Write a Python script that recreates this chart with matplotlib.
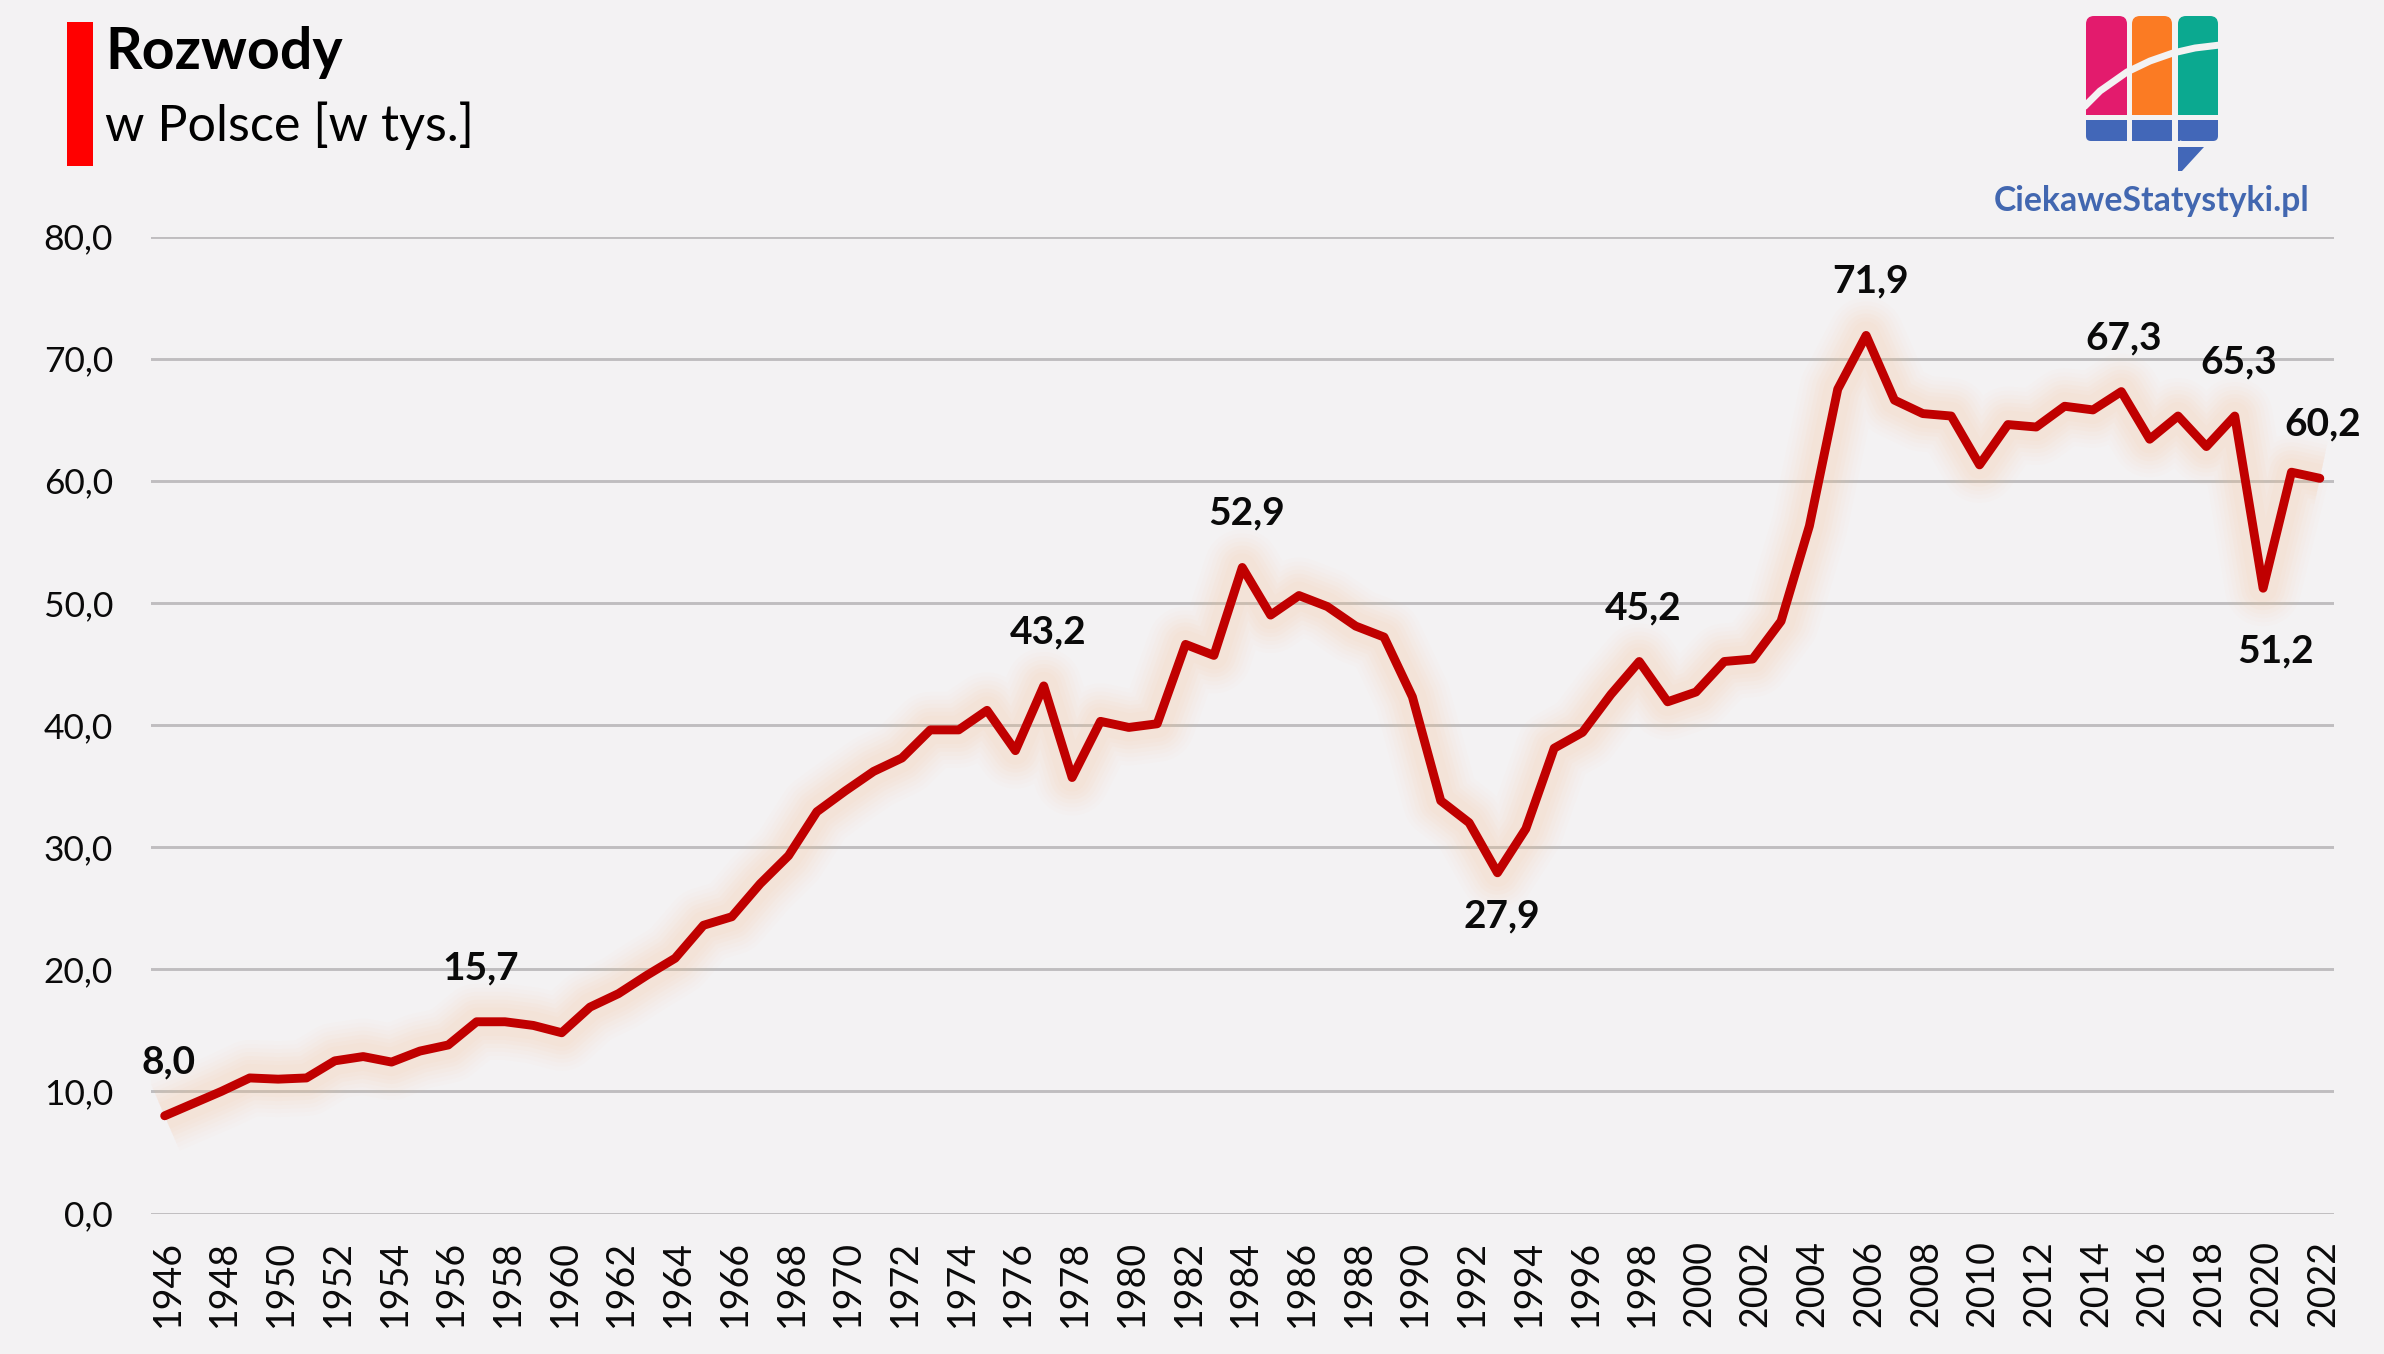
import matplotlib
matplotlib.use("Agg")
import matplotlib.pyplot as plt
from matplotlib.patches import Rectangle, FancyBboxPatch, Polygon
from matplotlib.ticker import FuncFormatter
from matplotlib.transforms import ScaledTranslation

years = list(range(1946, 2023))
divorces = [8.0, 9.0, 10.0, 11.1, 11.0, 11.1, 12.5, 12.85, 12.4, 13.3,
            13.8, 15.7, 15.7, 15.4, 14.8, 16.9, 18.0, 19.5, 20.9, 23.6,
            24.3, 27.0, 29.3, 32.9, 34.6, 36.2, 37.3, 39.6, 39.6, 41.2,
            37.9, 43.2, 35.7, 40.3, 39.8, 40.1, 46.6, 45.7, 52.9, 49.0,
            50.6, 49.7, 48.1, 47.2, 42.3, 33.8, 32.0, 27.9, 31.5, 38.1,
            39.4, 42.5, 45.2, 41.9, 42.7, 45.2, 45.4, 48.5, 56.3, 67.5,
            71.9, 66.6, 65.5, 65.3, 61.3, 64.6, 64.4, 66.1, 65.8, 67.3,
            63.4, 65.3, 62.8, 65.3, 51.2, 60.7, 60.2]
label_years = [1946, 1957, 1977, 1984, 1993, 1998, 2006, 2015, 2019, 2022, 2020]
label_text = ["8,0", "15,7", "43,2", "52,9", "27,9", "45,2", "71,9", "67,3", "65,3", "60,2", "51,2"]
label_dx = [4, 4, 4, 4, 4, 4, 4, 2, 4, 3, 12]
label_dy = [54, 54, 54, 54, -43, 54, 54, 54, 54, 54, -63]
y_ticks = [0, 10, 20, 30, 40, 50, 60, 70, 80]

BG = "#F3F2F3"
W, H = 2384, 1354
plt.rcParams["font.family"] = ["Lato", "DejaVu Sans"]
fig = plt.figure(figsize=(W / 100, H / 100), dpi=100, facecolor=BG)

L, R, T, B = 150.5, 2334, 236.5, 1213.5
ax = fig.add_axes([L / W, 1 - B / H, (R - L) / W, (B - T) / H], facecolor="none")
ax.set_xlim(years[0] - 0.5, years[-1] + 0.5)
ax.set_ylim(0, 80)
for s in ax.spines.values():
    s.set_visible(False)
ax.set_yticks(y_ticks)
ax.yaxis.set_major_formatter(FuncFormatter(lambda v, p: f"{v:.1f}".replace(".", ",")))
ax.set_xticks(years[::2])
ax.set_xticklabels([str(y) for y in years[::2]], rotation=90)
ax.tick_params(axis="both", length=0)
ax.tick_params(axis="y", labelsize=25.5, pad=27, labelcolor="#0a0a0a")
ax.tick_params(axis="x", labelsize=27, pad=19, labelcolor="#0a0a0a")
shift = ScaledTranslation(3 / 100, 0, fig.dpi_scale_trans)
for lab in ax.get_xticklabels():
    lab.set_transform(lab.get_transform() + shift)
ax.grid(axis="y", color="#BFBDBF", lw=2.1, zorder=1)
ax.set_axisbelow(True)

for lw, a in [(76, 0.03), (68, 0.035), (60, 0.04), (52, 0.05), (44, 0.06),
              (36, 0.06), (28, 0.06)]:
    ax.plot(years, divorces, color="#F8C79C", lw=lw * 0.72, alpha=a, zorder=2,
            solid_capstyle="butt", solid_joinstyle="round")
ax.plot(years, divorces, color="#C00000", lw=6.4, zorder=3,
        solid_capstyle="round", solid_joinstyle="round")

for yr, txt, dx, dy in zip(label_years, label_text, label_dx, label_dy):
    ax.annotate(txt, (yr, divorces[years.index(yr)]), xytext=(dx, dy),
                textcoords="offset pixels", ha="center", va="center",
                fontsize=28, fontweight="bold", color="#0a0a0a", zorder=5,
                annotation_clip=False)

# overlay in pixel coordinates for header and logo
ov = fig.add_axes([0, 0, 1, 1], facecolor="none")
ov.set_xlim(0, W)
ov.set_ylim(H, 0)
ov.axis("off")
ov.add_patch(Rectangle((67, 22), 26, 144, color="#FF0000", lw=0))
ov.text(105, 69, "Rozwody", fontsize=41.2, fontweight="bold", color="black", va="baseline")
ov.text(105, 141, "w Polsce [w tys.]", fontsize=36.2, color="black", va="baseline")

for x0, x1, c in [(2086, 2127, "#E31B6D"), (2132, 2172, "#FB7B23"), (2178, 2218, "#0BA990")]:
    ov.add_patch(FancyBboxPatch((x0 + 6, 22), x1 - x0 - 12, 87,
                                boxstyle="round,pad=6,rounding_size=8", color=c, lw=0))
    ov.add_patch(Rectangle((x0, 100), x1 - x0, 15, color=c, lw=0))
for x0, x1 in [(2086, 2127), (2132, 2172), (2178, 2218)]:
    ov.add_patch(FancyBboxPatch((x0 + 5, 125), x1 - x0 - 10, 11,
                                boxstyle="round,pad=5,rounding_size=5", color="#4267B8", lw=0))
    ov.add_patch(Rectangle((x0, 120), x1 - x0, 8, color="#4267B8", lw=0))
ov.add_patch(Rectangle((2120, 128), 60, 13, color="#4267B8", lw=0))
ov.add_patch(Rectangle((2127, 120), 5, 21, color=BG, lw=0))
ov.add_patch(Rectangle((2172, 120), 6, 21, color=BG, lw=0))
ov.add_patch(Polygon([(2178, 147), (2204, 147), (2182, 171), (2178, 171)], color="#4267B8", lw=0))
ov.plot([2084, 2100, 2127, 2150, 2173, 2195, 2220], [107, 91, 72, 61, 53, 48, 45],
        color=BG, lw=5, solid_capstyle="butt")
ov.text(2152, 211, "CiekaweStatystyki.pl", fontsize=24.3, fontweight="bold",
        color="#4267B0", ha="center", va="baseline")

fig.savefig("out.png", dpi=100, facecolor=BG)
